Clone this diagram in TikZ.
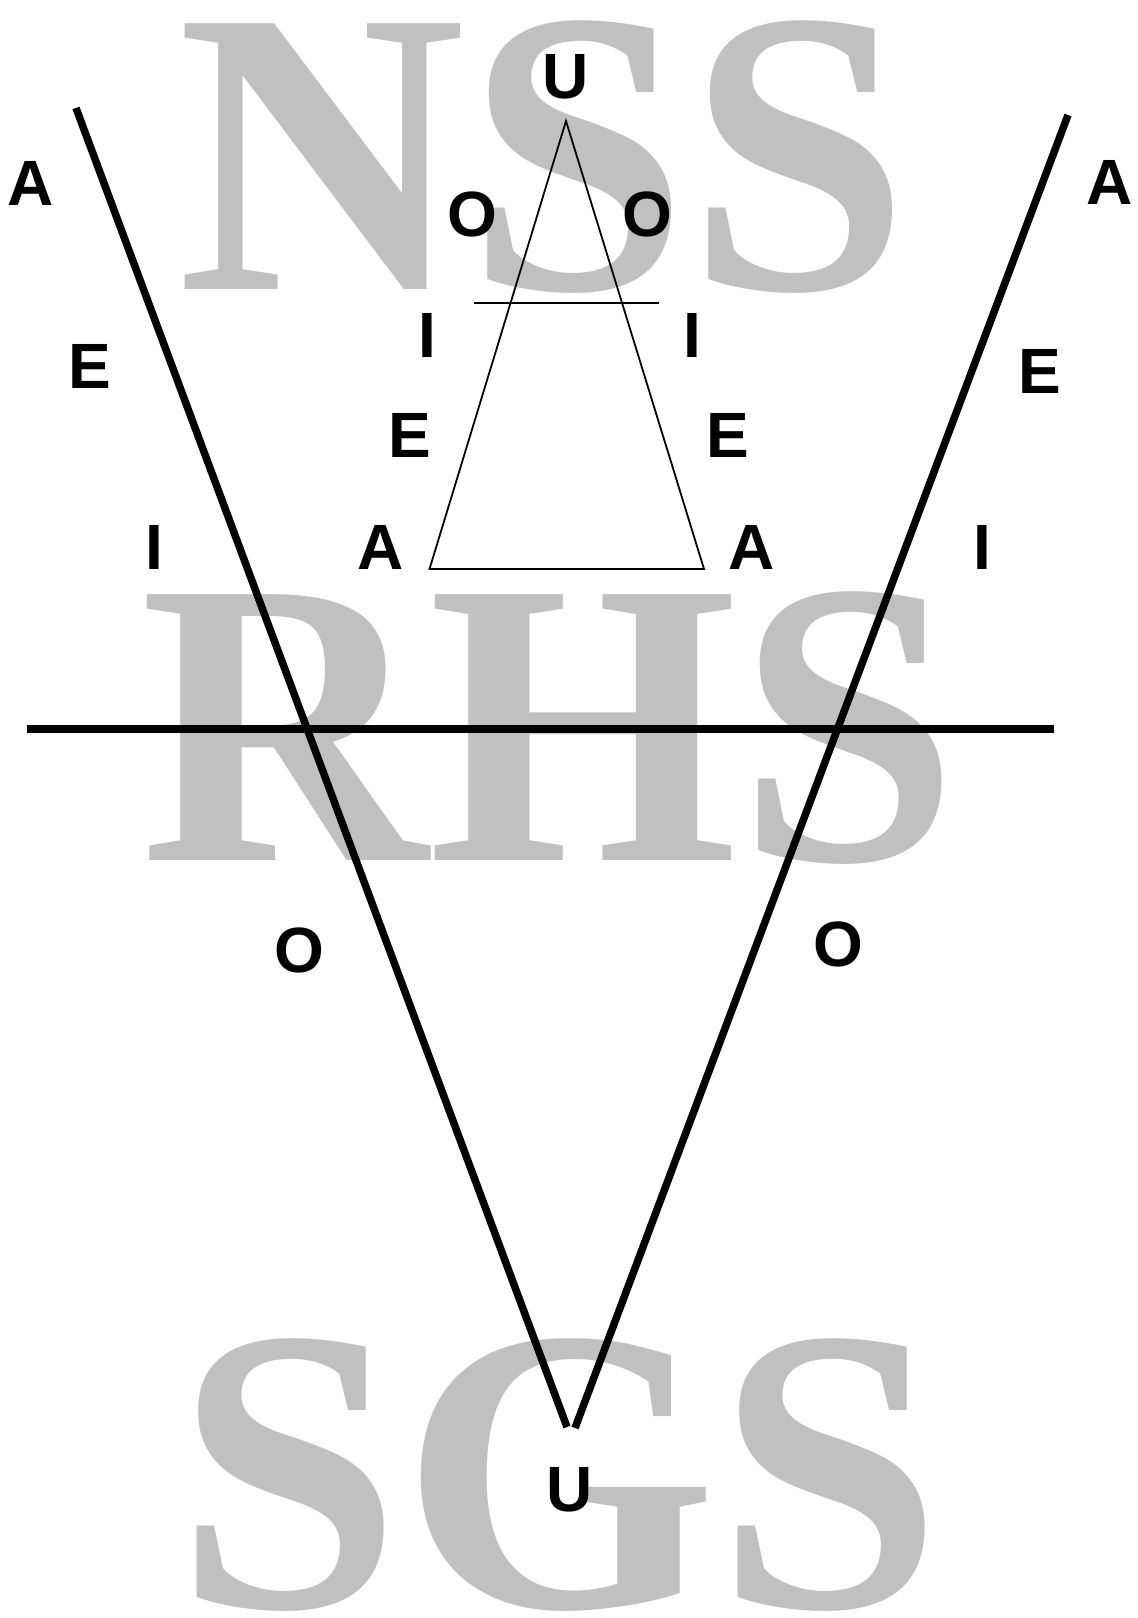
\documentclass[tikz,border=0pt]{standalone}
\usepackage{fontspec}
\setmainfont{Liberation Serif}
\newfontfamily\vowelfont{Liberation Sans}
\usetikzlibrary{positioning}

\definecolor{wordgray}{HTML}{C0C0C0}

\begin{document}
\begin{tikzpicture}[
    x=1pt, y=-1pt,
    word/.style={
      anchor=base, inner sep=0pt, text=wordgray,
      font=\fontsize{406}{406}\selectfont\bfseries
    },
    vowel/.style={inner sep=0pt, font=\vowelfont\fontsize{64}{64}\selectfont\bfseries},
    axis/.style={line width=7.5pt},
    thinline/.style={line width=1.8pt}
]
\useasboundingbox (0,0) rectangle (1138,1618);

% Background words
\node[word] (nss) at (544,289) {\scalebox{0.983}[1]{NSS}};
\node[word] (rhs) at (550,860) {\scalebox{0.98}[1]{RHS}};
\node[word] (sgs) at (559,1607) {SGS};

% Triangle
\coordinate (apex) at (566,121);
\coordinate (baseL) at (429.5,569);
\coordinate (baseR) at (704,569);
\coordinate (barL) at (474,303);
\coordinate (barR) at (659,303);
\draw[thinline] (apex) -- (baseL) -- (baseR) -- cycle;
\draw[thinline] (barL) -- (barR);

% Big V and horizon
\coordinate (vlTop) at (76,108);
\coordinate (vlBot) at (567,1427);
\coordinate (vrTop) at (1068,115);
\coordinate (vrBot) at (575,1428);
\coordinate (hL) at (27,729);
\coordinate (hR) at (1054,729);
\draw[axis] (vlTop) -- (vlBot);
\draw[axis] (vrTop) -- (vrBot);
\draw[axis] (hL) -- (hR);

% Inner vowels
\node[vowel] (uTop) at (566,77) {U};
\node[vowel] (oL) at (472,214) {O};
\node[vowel] (oR) at (647,214) {O};
\node[vowel] (iL) at (427,335) {I};
\node[vowel] (iR) at (692,335) {I};
\node[vowel] (eL) at (410,435) {E};
\node[vowel] (eR) at (728,435) {E};
\node[vowel] (aL) at (381,547) {A};
\node[vowel] (aR) at (752,547) {A};

% Outer vowels
\node[vowel] (aFL) at (31,183) {A};
\node[vowel] (aFR) at (1110,182) {A};
\node[vowel] (eFL) at (90,366) {E};
\node[vowel] (eFR) at (1040,371) {E};
\node[vowel] (iFL) at (154,547) {I};
\node[vowel] (iFR) at (982,547) {I};
\node[vowel] (oBL) at (299,950) {O};
\node[vowel] (oBR) at (838,944) {O};
\node[vowel] (uBot) at (570,1490) {U};

\end{tikzpicture}
\end{document}
